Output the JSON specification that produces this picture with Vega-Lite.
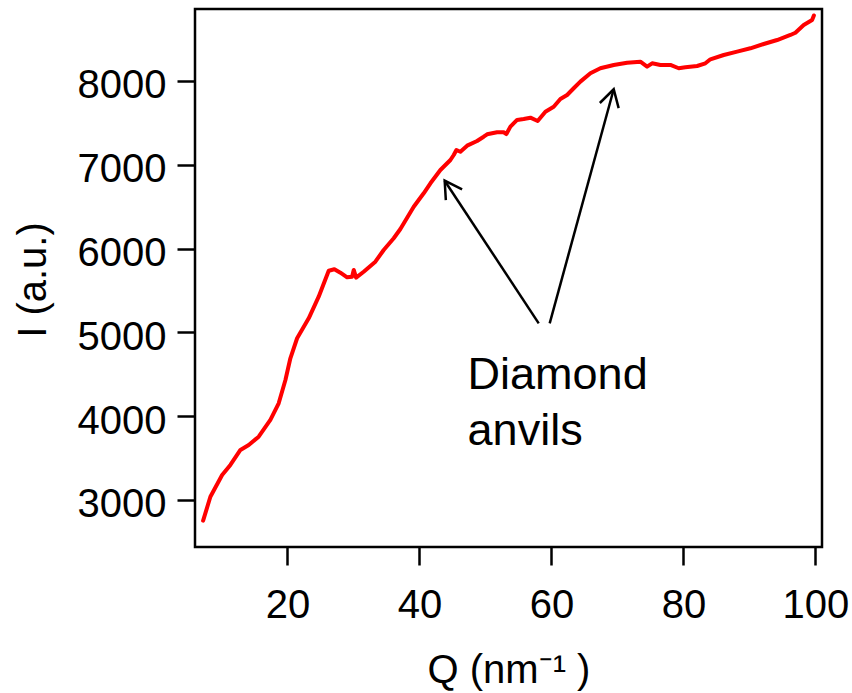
{
  "$schema": "https://vega.github.io/schema/vega-lite/v6.json",
  "width": 627,
  "height": 538,
  "autosize": {"type": "none"},
  "padding": {"left": 195, "top": 9, "right": 30, "bottom": 146},
  "background": "white",
  "datasets": {
    "curve": [
      {"q": 7.23, "i": 2753}, {"q": 8.33, "i": 3039}, {"q": 10.11, "i": 3298}, {"q": 11.36, "i": 3418},
      {"q": 12.88, "i": 3597}, {"q": 14.14, "i": 3656}, {"q": 15.65, "i": 3755}, {"q": 17.42, "i": 3955},
      {"q": 18.68, "i": 4154}, {"q": 19.70, "i": 4432}, {"q": 20.45, "i": 4691}, {"q": 21.47, "i": 4930},
      {"q": 23.23, "i": 5168}, {"q": 24.74, "i": 5426}, {"q": 26.26, "i": 5736}, {"q": 27.12, "i": 5753},
      {"q": 28.03, "i": 5712}, {"q": 29.05, "i": 5657}, {"q": 29.80, "i": 5665}, {"q": 30.05, "i": 5745},
      {"q": 30.41, "i": 5653}, {"q": 31.56, "i": 5724}, {"q": 33.33, "i": 5844}, {"q": 34.59, "i": 5983},
      {"q": 36.11, "i": 6123}, {"q": 37.12, "i": 6234}, {"q": 39.14, "i": 6500}, {"q": 40.65, "i": 6660},
      {"q": 41.67, "i": 6779}, {"q": 43.18, "i": 6938}, {"q": 44.70, "i": 7057}, {"q": 45.20, "i": 7117},
      {"q": 45.61, "i": 7177}, {"q": 46.21, "i": 7156}, {"q": 47.23, "i": 7228}, {"q": 48.74, "i": 7284},
      {"q": 49.74, "i": 7335}, {"q": 50.26, "i": 7364}, {"q": 51.77, "i": 7388}, {"q": 52.77, "i": 7388},
      {"q": 53.18, "i": 7367}, {"q": 53.79, "i": 7455}, {"q": 54.80, "i": 7535}, {"q": 55.80, "i": 7547},
      {"q": 56.82, "i": 7562}, {"q": 57.92, "i": 7523}, {"q": 59.09, "i": 7634}, {"q": 60.35, "i": 7693},
      {"q": 61.36, "i": 7785}, {"q": 62.38, "i": 7833}, {"q": 63.38, "i": 7913}, {"q": 64.39, "i": 7992},
      {"q": 65.91, "i": 8092}, {"q": 67.42, "i": 8152}, {"q": 69.44, "i": 8191}, {"q": 71.47, "i": 8218},
      {"q": 73.48, "i": 8230}, {"q": 74.50, "i": 8171}, {"q": 75.26, "i": 8211}, {"q": 76.52, "i": 8191},
      {"q": 78.03, "i": 8191}, {"q": 79.29, "i": 8152}, {"q": 80.30, "i": 8163}, {"q": 82.08, "i": 8179},
      {"q": 83.33, "i": 8211}, {"q": 84.09, "i": 8259}, {"q": 86.11, "i": 8310}, {"q": 88.14, "i": 8350},
      {"q": 90.15, "i": 8390}, {"q": 92.17, "i": 8441}, {"q": 94.20, "i": 8489}, {"q": 96.21, "i": 8549},
      {"q": 96.97, "i": 8576}, {"q": 98.23, "i": 8668}, {"q": 99.50, "i": 8728}, {"q": 99.77, "i": 8782}
    ],
    "arrows": [
      {"arrow": 1, "q_from": 58.08, "i_from": 5108, "q_to": 43.83, "i_to": 6810},
      {"arrow": 2, "q_from": 59.74, "i_from": 5108, "q_to": 69.44, "i_to": 7901}
    ],
    "note": [
      {"q": 47.3, "i": 4321, "label": "Diamond\nanvils"}
    ]
  },
  "layer": [
    {
      "data": {"name": "curve"},
      "mark": {"type": "line", "color": "#FF0000", "strokeWidth": 4, "strokeJoin": "round", "strokeCap": "round", "clip": true},
      "encoding": {
        "x": {"field": "q", "type": "quantitative", "title": "Q (nm⁻¹ )",
              "scale": {"domain": [6, 101], "nice": false, "zero": false},
              "axis": {"values": [20, 40, 60, 80, 100], "format": "d"}},
        "y": {"field": "i", "type": "quantitative", "title": "I (a.u.)",
              "scale": {"domain": [2439, 8859], "nice": false, "zero": false},
              "axis": {"values": [3000, 4000, 5000, 6000, 7000, 8000], "format": "d"}}
      }
    },
    {
      "data": {"name": "arrows"},
      "mark": {"type": "rule", "color": "black", "strokeWidth": 2.5},
      "encoding": {
        "x": {"field": "q_from", "type": "quantitative", "title": "Q (nm⁻¹ )", "scale": {"domain": [6, 101], "nice": false, "zero": false}},
        "y": {"field": "i_from", "type": "quantitative", "title": "I (a.u.)", "scale": {"domain": [2439, 8859], "nice": false, "zero": false}},
        "x2": {"field": "q_to"},
        "y2": {"field": "i_to"}
      }
    },
    {
      "data": {"name": "arrows"},
      "transform": [{"filter": "datum.arrow == 1"}],
      "mark": {"type": "point", "shape": "M-0.577,1L0,0L0.577,1", "filled": false, "stroke": "black",
               "strokeWidth": 2.5, "size": 1140, "angle": 326.6, "opacity": 1},
      "encoding": {
        "x": {"field": "q_to", "type": "quantitative", "title": "Q (nm⁻¹ )", "scale": {"domain": [6, 101], "nice": false, "zero": false}},
        "y": {"field": "i_to", "type": "quantitative", "title": "I (a.u.)", "scale": {"domain": [2439, 8859], "nice": false, "zero": false}}
      }
    },
    {
      "data": {"name": "arrows"},
      "transform": [{"filter": "datum.arrow == 2"}],
      "mark": {"type": "point", "shape": "M-0.577,1L0,0L0.577,1", "filled": false, "stroke": "black",
               "strokeWidth": 2.5, "size": 1140, "angle": 15.3, "opacity": 1},
      "encoding": {
        "x": {"field": "q_to", "type": "quantitative", "title": "Q (nm⁻¹ )", "scale": {"domain": [6, 101], "nice": false, "zero": false}},
        "y": {"field": "i_to", "type": "quantitative", "title": "I (a.u.)", "scale": {"domain": [2439, 8859], "nice": false, "zero": false}}
      }
    },
    {
      "data": {"name": "note"},
      "mark": {"type": "text", "align": "left", "baseline": "alphabetic", "font": "Liberation Sans",
               "fontSize": 45, "lineHeight": 56, "lineBreak": "\n", "color": "black"},
      "encoding": {
        "x": {"field": "q", "type": "quantitative", "title": "Q (nm⁻¹ )", "scale": {"domain": [6, 101], "nice": false, "zero": false}},
        "y": {"field": "i", "type": "quantitative", "title": "I (a.u.)", "scale": {"domain": [2439, 8859], "nice": false, "zero": false}},
        "text": {"field": "label"}
      }
    }
  ],
  "config": {
    "view": {"stroke": "black", "strokeWidth": 2.5, "fill": "white"},
    "axis": {
      "domain": false,
      "grid": false,
      "ticks": true,
      "tickColor": "black",
      "tickWidth": 2.5,
      "tickSize": 18,
      "labelFont": "Liberation Sans",
      "labelFontSize": 40,
      "labelColor": "black",
      "labelFlush": false,
      "labelOverlap": false,
      "titleFont": "Liberation Sans",
      "titleFontSize": 40,
      "titleFontWeight": "normal",
      "titleColor": "black"
    },
    "axisX": {
      "labelPadding": 20,
      "titleX": 313.5,
      "titleY": 135,
      "titleBaseline": "alphabetic",
      "titleAlign": "center"
    },
    "axisY": {
      "labelPadding": 11,
      "labelOffset": 5,
      "titleX": -150,
      "titleY": 270.5,
      "titleBaseline": "alphabetic",
      "titleAlign": "center",
      "titleAngle": 270
    }
  }
}
